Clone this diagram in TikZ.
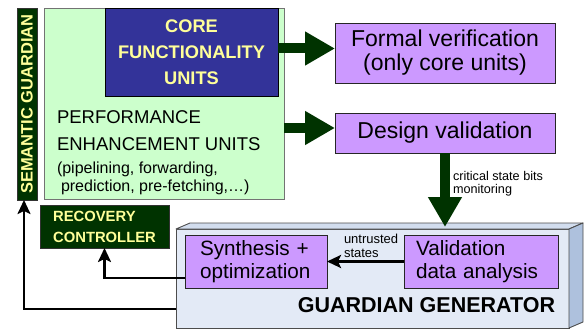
\documentclass[tikz,border=0pt]{standalone}
\usepackage{fontspec}
\setmainfont{Liberation Sans}
\usetikzlibrary{arrows.meta,calc,shadows}

\definecolor{dkgreen}{HTML}{003300}
\definecolor{ltgreen}{HTML}{CCFFCC}
\definecolor{coreblue}{HTML}{333399}
\definecolor{lilac}{HTML}{CC99FF}
\definecolor{paleyellow}{HTML}{FFFF99}
\definecolor{genfront}{HTML}{E3EAF6}
\definecolor{gentop}{HTML}{D2DDEE}
\definecolor{genside}{HTML}{AEC1DD}

\newcommand\fsz[2]{\fontsize{#1}{#2}\selectfont}

\begin{document}
\begin{tikzpicture}[x=1pt,y=-1pt,
  every node/.style={inner sep=0pt, outer sep=0pt},
  shadowed/.style={drop shadow={shadow xshift=1.3pt, shadow yshift=-1.3pt, fill=black!40, opacity=1}},
  lilacbox/.style={draw=black!85, line width=0.8pt, fill=lilac, shadowed},
  darkbox/.style={draw=black!80, line width=0.8pt, fill=dkgreen, text=paleyellow, font=\bfseries},
  garrow/.style={draw=dkgreen, line width=10pt, -{Triangle[length=30pt,width=32pt]}},
  barrow/.style={draw=black, line width=2.3pt, -{Stealth[length=14pt,width=13pt,inset=3pt]}},
  sidetext/.style={anchor=north west, align=left}
]
\useasboundingbox (0,0) rectangle (586,329);

% processor: guardian bar, unit panel and core block
\node[darkbox, minimum width=20pt, minimum height=192pt, anchor=north west] (sg) at (17,8) {};
\node[rotate=90, text=paleyellow, font=\fsz{16.5}{18}\bfseries] at (sg.center) {SEMANTIC GUARDIAN};

\node[draw=black!55, line width=0.9pt, fill=ltgreen, shadowed,
      minimum width=240pt, minimum height=191pt, anchor=north west] (panel) at (44,8) {};
\node[draw=black, line width=0.8pt, fill=coreblue, text=paleyellow, align=center,
      font=\fsz{18.25}{26}\bfseries,
      minimum width=173pt, minimum height=88pt, anchor=north west] (core) at (105,8)
      {CORE\\FUNCTIONALITY\\UNITS};

\node[anchor=base west, font=\fsz{18.5}{20}] (perf1) at (57,123) {PERFORMANCE};
\node[anchor=base west, font=\fsz{18.5}{20}] (perf2) at (57,150) {ENHANCEMENT UNITS};
\node[anchor=base west, font=\fsz{16}{18}] (perf3) at (57,173) {(pipelining, forwarding,};
\node[anchor=base west, font=\fsz{16}{18}] (perf4) at (61,191) {prediction, pre-fetching,\dots)};

% verification targets
\node[lilacbox, align=center, font=\fsz{23}{24},
      minimum width=220pt, minimum height=60pt, anchor=north west] (formal) at (335,23)
      {Formal verification\\(only core units)};
\node[lilacbox, font=\fsz{23}{24},
      minimum width=220pt, minimum height=40pt, anchor=north west] (design) at (335,113)
      {Design validation};

% recovery controller
\node[darkbox, align=left, font=\fsz{14.8}{21}\bfseries,
      minimum width=129pt, minimum height=43pt, anchor=north west] (rec) at (40,205)
      {RECOVERY\\CONTROLLER};

% guardian generator drawn as a 3D block
\node[draw=black!70, line width=0.9pt, fill=genfront,
      minimum width=393pt, minimum height=99pt, anchor=north west] (gen) at (176,229) {};
\draw[draw=black!70, line width=0.9pt, fill=gentop, line join=round]
  (gen.north west) -- ++(14,-6) -- ($(gen.north east)+(14,-6)$) -- (gen.north east) -- cycle;
\draw[draw=black!70, line width=0.9pt, fill=genside, line join=round]
  (gen.north east) -- ++(14,-6) -- ($(gen.south east)+(14,-6)$) -- (gen.south east) -- cycle;
\node[anchor=base, font=\fsz{21.5}{24}\bfseries] (gentitle) at (426.5,312) {GUARDIAN GENERATOR};

\node[lilacbox, align=left, text width=112pt, font=\fsz{20.7}{23},
      minimum width=142pt, minimum height=53pt, anchor=north west] (synth) at (185,235)
      {Synthesis +\\optimization};
\node[lilacbox, align=left, text width=130pt, font=\fsz{20.7}{23},
      minimum width=154pt, minimum height=53pt, anchor=north west] (valid) at (404,235)
      {Validation\\data analysis};

% thick flow arrows
\coordinate (fvin) at ($(formal.west)+(0,-4.5)$);
\coordinate (dvin) at ($(design.west)+(0,-5)$);
\coordinate (gtop) at ($(design.south |- gen.north)+(0,-2)$);
\draw[garrow] (fvin -| core.east) -- (fvin);
\draw[garrow] (dvin -| panel.east) -- (dvin);
\draw[garrow] (design.south) -- (gtop);
\node[sidetext, font=\fsz{12.65}{13}] (critlbl) at (453,171) {critical state bits\\monitoring};

% feedback arrows
\draw[barrow, line width=2.8pt] (valid.west) -- (synth.east);
\node[sidetext, font=\fsz{13}{14}] (untrlbl) at (344,234) {untrusted\\states};
\draw[barrow] ([yshift=10pt]synth.south west) -| (rec.south);
\draw[barrow] ([yshift=19pt]gen.south west) -| ([xshift=-3pt]sg.south);
\end{tikzpicture}
\end{document}
